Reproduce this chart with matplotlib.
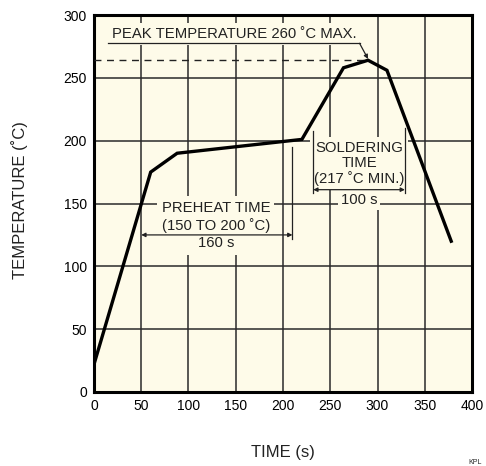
import matplotlib
matplotlib.use("Agg")
import matplotlib.pyplot as plt

plt.rcParams['font.family'] = ['Liberation Sans', 'DejaVu Sans']

# reflow profile
time_s = [0, 60, 88, 220, 264, 290, 310, 378]
temp_c = [22, 175, 190, 201, 258, 264, 256, 120]

x_ticks = [0, 50, 100, 150, 200, 250, 300, 350, 400]
y_ticks = [0, 50, 100, 150, 200, 250, 300]

peak_line = 264
peak_time = 290
preheat_span = [50, 210]
solder_span = [232, 329]

bg = '#fefbe9'
ink = '#222222'

fig = plt.figure(figsize=(4.86, 4.66), dpi=100)
ax = fig.add_axes([0.1934, 0.1588, 0.9712 - 0.1934, 0.9678 - 0.1588])
ax.set_facecolor(bg)
ax.set_xlim(0, 400)
ax.set_ylim(0, 300)
ax.set_xticks(x_ticks)
ax.set_yticks(y_ticks)
ax.tick_params(length=0, labelsize=10, pad=5, colors='black')
ax.grid(True, color='#2a2a2a', linewidth=1.1, zorder=1)
ax.set_axisbelow(True)
for s in ax.spines.values():
    s.set_linewidth(2.2)
    s.set_color('black')

ax.plot(time_s, temp_c, color='black', linewidth=2.4, zorder=5,
        solid_joinstyle='miter')

# peak temperature
ax.plot([0, peak_time], [peak_line, peak_line], color=ink, linewidth=1,
        dashes=(5, 4), zorder=4)
tb = dict(facecolor=bg, edgecolor='none', pad=3)
fs = 10.7
ax.text(19, 285, 'PEAK TEMPERATURE 260 ˚C MAX.', fontsize=fs, color=ink,
        va='center', ha='left', bbox=tb, zorder=3)
ax.plot([15, 281], [277.5, 277.5], color=ink, linewidth=0.9, zorder=4)
ax.annotate('', xy=(peak_time, peak_line + 1), xytext=(281, 277.5),
            arrowprops=dict(arrowstyle='-|>', color=ink, lw=0.9,
                            mutation_scale=6, shrinkA=0, shrinkB=0),
            zorder=4)

# preheat dimension
ax.text(129, 132.5, 'PREHEAT TIME\n(150 TO 200 ˚C)\n160 s', fontsize=fs,
        color=ink, ha='center', va='center', multialignment='center',
        linespacing=1.3, bbox=tb, zorder=3)
ax.plot([preheat_span[1], preheat_span[1]], [195, 122], color=ink,
        linewidth=0.9, zorder=4)
ax.annotate('', xy=(preheat_span[0], 125), xytext=(preheat_span[1], 125),
            arrowprops=dict(arrowstyle='<|-|>', color=ink, lw=0.9,
                            mutation_scale=6, shrinkA=0, shrinkB=0),
            zorder=4)

# soldering dimension
sx = (solder_span[0] + solder_span[1]) / 2
ax.text(sx, 182, 'SOLDERING\nTIME\n(217 ˚C MIN.)', fontsize=fs, color=ink,
        ha='center', va='center', multialignment='center', linespacing=1.08,
        bbox=tb, zorder=3)
ax.text(sx, 153, '100 s', fontsize=fs, color=ink, ha='center',
        va='center', bbox=dict(facecolor=bg, edgecolor='none', pad=2),
        zorder=3)
ax.plot([solder_span[0], solder_span[0]], [208, 158], color=ink,
        linewidth=0.9, zorder=4)
ax.plot([solder_span[1], solder_span[1]], [210, 158], color=ink,
        linewidth=0.9, zorder=4)
ax.annotate('', xy=(solder_span[0], 161), xytext=(solder_span[1], 161),
            arrowprops=dict(arrowstyle='<|-|>', color=ink, lw=0.9,
                            mutation_scale=6, shrinkA=0, shrinkB=0),
            zorder=4)

fig.text(283 / 486, 1 - 453 / 466, 'TIME (s)', fontsize=12, ha='center',
         va='center', color=ink)
fig.text(20 / 486, 1 - 200 / 466, 'TEMPERATURE (˚C)', fontsize=12,
         ha='center', va='center', rotation=90, color=ink)
fig.text(468 / 486, 1 - 462 / 466, 'KPL', fontsize=5, ha='left',
         va='center', color=ink)

fig.savefig('out.png', dpi=100, facecolor='white')
